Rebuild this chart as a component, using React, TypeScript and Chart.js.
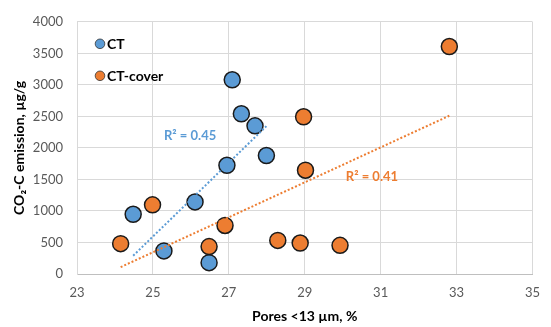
import React, { useEffect, useRef } from "react";
import { Chart, registerables } from "chart.js";
Chart.register(...registerables);

// CT series
const ctX = [24.48, 25.29, 26.11, 26.48, 26.95, 27.09, 27.33, 27.69, 27.99];
const ctY = [947, 366, 1143, 180, 1724, 3080, 2541, 2350, 1879];
// CT-cover series
const coverX = [24.15, 24.99, 26.48, 26.9, 28.29, 28.88, 28.97, 29.02, 29.93, 32.81];
const coverY = [481, 1097, 435, 770, 533, 491, 2494, 1646, 455, 3608];
// linear trendline endpoints
const ctTrendX = [24.48, 27.99];
const ctTrendY = [290, 2345];
const coverTrendX = [24.15, 32.81];
const coverTrendY = [109, 2510];
// R² labels and their anchor in data units
const r2Texts = ["R² = 0.45", "R² = 0.41"];
const r2X = [25.98, 30.77];
const r2Y = [2194, 1542];
const seriesNames = ["CT", "CT-cover"];
const xTitle = "Pores <13 µm, %";
const yTitle = "CO₂-C emission, µg/g";

const BLUE = "#5B9BD5";
const ORANGE = "#ED7D31";
const FONT = "Lato, 'Open Sans', sans-serif";

const toPts = (xs: number[], ys: number[]) => xs.map((x, i) => ({ x, y: ys[i] }));

export default function App() {
  const ref = useRef<HTMLCanvasElement | null>(null);
  useEffect(() => {
    if (!ref.current) return;
    const overlay = {
      id: "overlay",
      afterDatasetsDraw(chart: any) {
        const ctx = chart.ctx;
        const xs = chart.scales.x;
        const ys = chart.scales.y;
        ctx.save();
        // R² labels
        ctx.font = `bold 13px ${FONT}`;
        ctx.textAlign = "center";
        ctx.textBaseline = "middle";
        const cols = [BLUE, ORANGE];
        r2Texts.forEach((t, i) => {
          ctx.fillStyle = cols[i];
          ctx.fillText(t, xs.getPixelForValue(r2X[i]), ys.getPixelForValue(r2Y[i]));
        });
        // legend
        const lx = chart.chartArea.left + 23;
        const ly = chart.chartArea.top + 22;
        ctx.font = `bold 14px ${FONT}`;
        ctx.textAlign = "left";
        seriesNames.forEach((n, i) => {
          const y = ly + i * 32;
          ctx.beginPath();
          ctx.arc(lx, y, 4.8, 0, Math.PI * 2);
          ctx.fillStyle = cols[i];
          ctx.fill();
          ctx.lineWidth = 0.8;
          ctx.strokeStyle = "#333";
          ctx.stroke();
          ctx.fillStyle = "#000";
          ctx.fillText(n, lx + 7, y + 0.5);
        });
        ctx.restore();
      },
    };
    const chart = new Chart(ref.current, {
      type: "scatter",
      data: {
        datasets: [
          {
            label: "CT trend",
            data: toPts(ctTrendX, ctTrendY),
            showLine: true,
            borderColor: BLUE,
            borderWidth: 2,
            borderDash: [2, 2],
            pointRadius: 0,
            order: 0,
          },
          {
            label: "CT-cover trend",
            data: toPts(coverTrendX, coverTrendY),
            showLine: true,
            borderColor: ORANGE,
            borderWidth: 2,
            borderDash: [2, 2],
            pointRadius: 0,
            order: 0,
          },
          {
            label: seriesNames[0],
            data: toPts(ctX, ctY),
            backgroundColor: BLUE,
            borderColor: "#1a1a1a",
            borderWidth: 1.5,
            pointRadius: 8,
            order: 2,
          },
          {
            label: seriesNames[1],
            data: toPts(coverX, coverY),
            backgroundColor: ORANGE,
            borderColor: "#1a1a1a",
            borderWidth: 1.5,
            pointRadius: 8,
            order: 1,
          },
        ],
      },
      options: {
        responsive: false,
        animation: false,
        layout: { padding: { top: 17, right: 5, left: 0, bottom: 0 } },
        plugins: { legend: { display: false }, tooltip: { enabled: false } },
        scales: {
          x: {
            type: "linear",
            min: 23,
            max: 35,
            afterFit: (s: any) => {
              s.height = 53;
            },
            ticks: {
              stepSize: 2,
              padding: 11,
              color: "#595959",
              font: { family: FONT, size: 13 },
              callback: (v: any) => String(v),
            },
            grid: { color: "#d9d9d9", drawTicks: false },
            border: { color: "#bfbfbf" },
            title: {
              display: true,
              text: xTitle,
              color: "#000",
              font: { family: FONT, size: 14, weight: "bold" },
              padding: { top: 2, bottom: 2 },
            },
          },
          y: {
            type: "linear",
            min: 0,
            max: 4000,
            afterFit: (s: any) => {
              s.width = 77;
            },
            ticks: {
              stepSize: 500,
              padding: 14,
              color: "#595959",
              font: { family: FONT, size: 13 },
              callback: (v: any) => String(v),
            },
            grid: { color: "#d9d9d9", drawTicks: false },
            border: { color: "#d9d9d9" },
            title: {
              display: true,
              text: yTitle,
              color: "#000",
              font: { family: FONT, size: 14, weight: "bold" },
              padding: { top: 11, bottom: 2 },
            },
          },
        },
      },
      plugins: [overlay],
    } as any);
    return () => chart.destroy();
  }, []);
  return (
    <div style={{ position: "absolute", left: 0, top: 0, width: 551, height: 327, background: "#fff" }}>
      <canvas ref={ref} width={551} height={327} style={{ display: "block" }} />
    </div>
  );
}
